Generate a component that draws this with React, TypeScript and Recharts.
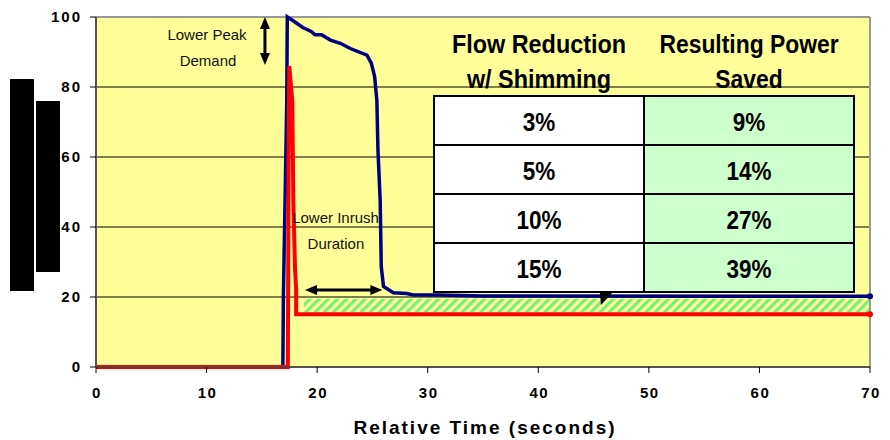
import React from "react"
import {
  LineChart,
  Line,
  XAxis,
  YAxis,
  CartesianGrid,
  ReferenceArea,
  ReferenceLine,
  ReferenceDot,
} from "recharts"

// time axis (seconds) and load (% of peak)
const BLUE_T = [0, 16.9, 16.95, 17.1, 17.25, 17.3, 17.8, 18.7, 19.5, 19.8, 20.4, 21.2, 22.1, 23.0, 24.5, 24.9, 25.2, 25.4, 25.5, 25.7, 25.8, 26.0, 26.9, 28.1, 28.7, 31, 35, 70]
const BLUE_V = [0, 0, 21, 47.7, 76, 100, 99, 97, 95.8, 94.9, 94.9, 93.4, 92.5, 91, 89.1, 86.8, 83, 76.2, 62, 47.7, 28.7, 23, 21.2, 21, 20.6, 20.6, 20.3, 20.2]

const RED_T = [0, 17.35, 17.42, 17.48, 17.75, 17.85, 18.0, 18.1, 18.1, 70]
const RED_V = [0, 0, 60, 86, 76, 47, 28, 22, 15.1, 15.1]

const X_TICKS = [0, 10, 20, 30, 40, 50, 60, 70]
const Y_TICKS = [0, 20, 40, 60, 80, 100]

const FLOW_REDUCTION = ["3%", "5%", "10%", "15%"]
const POWER_SAVED = ["9%", "14%", "27%", "39%"]

const blueData = BLUE_T.map((t, i) => ({ t, v: BLUE_V[i] }))
const redData = RED_T.map((t, i) => ({ t, v: RED_V[i] }))

const FONT = "'Liberation Sans', Arial, sans-serif"

const YTick = (props: any) => {
  const { x, y, payload } = props
  return (
    <text x={x - 6} y={y} dy={5} textAnchor="end" fontFamily={FONT} fontWeight="bold" fontSize={15} letterSpacing={2} fill="#000">
      {payload.value}
    </text>
  )
}

const XTick = (props: any) => {
  const { x, y, payload } = props
  return (
    <text x={x + 1} y={y + 23} textAnchor="middle" fontFamily={FONT} fontWeight="bold" fontSize={15} letterSpacing={1.5} fill="#000">
      {payload.value}
    </text>
  )
}

// double headed arrow drawn between the segment ends
const arrowShape = (props: any) => {
  const { x1, y1, x2, y2 } = props
  const dx = x2 - x1
  const dy = y2 - y1
  const len = Math.sqrt(dx * dx + dy * dy) || 1
  const ux = dx / len
  const uy = dy / len
  const hl = 12
  const hw = 5
  const head = (px: number, py: number, dir: number) => {
    const bx = px + dir * ux * hl
    const by = py + dir * uy * hl
    return `${px},${py} ${bx - uy * hw},${by + ux * hw} ${bx + uy * hw},${by - ux * hw}`
  }
  return (
    <g>
      <line x1={x1 + ux * 6} y1={y1 + uy * 6} x2={x2 - ux * 6} y2={y2 - uy * 6} stroke="#000" strokeWidth={3} />
      <polygon points={head(x1, y1, 1)} fill="#000" />
      <polygon points={head(x2, y2, -1)} fill="#000" />
    </g>
  )
}

const textShape = (label: string) => (props: any) => (
  <text x={props.cx} y={props.cy} textAnchor="middle" dominantBaseline="central" fontFamily={FONT} fontSize={15} fill="#111">
    {label}
  </text>
)

const endDot = (count: number, color: string) => (props: any) => {
  const { cx, cy, index } = props
  if (index !== count - 1) return <g key={`d-${index}`} />
  return <circle key={`d-${index}`} cx={cx} cy={cy} r={3} fill={color} />
}

function DataTable() {
  const left = 434
  const top = 96
  const colW = 210
  const rowH = 49
  return (
    <svg width={890} height={440} style={{ position: "absolute", left: 0, top: 0, pointerEvents: "none" }}>
      <g fontFamily={FONT} fontWeight="bold" fill="#000" textAnchor="middle">
        <text transform="translate(539 53) scale(0.9 1)" fontSize={26}>Flow Reduction</text>
        <text transform="translate(539 88) scale(0.9 1)" fontSize={26}>w/ Shimming</text>
        <text transform="translate(749 53) scale(0.88 1)" fontSize={26}>Resulting Power</text>
        <text transform="translate(749 88) scale(0.88 1)" fontSize={26}>Saved</text>
      </g>
      {FLOW_REDUCTION.map((f, i) => (
        <g key={f}>
          <rect x={left} y={top + i * rowH} width={colW} height={rowH} fill="#FFFFFF" stroke="#000" strokeWidth={2} />
          <rect x={left + colW} y={top + i * rowH} width={colW} height={rowH} fill="#CCFFCC" stroke="#000" strokeWidth={2} />
          <text transform={`translate(${left + colW / 2} ${top + i * rowH + 35}) scale(0.9 1)`} textAnchor="middle" fontFamily={FONT} fontWeight="bold" fontSize={25}>
            {f}
          </text>
          <text transform={`translate(${left + colW * 1.5} ${top + i * rowH + 35}) scale(0.9 1)`} textAnchor="middle" fontFamily={FONT} fontWeight="bold" fontSize={25}>
            {POWER_SAVED[i]}
          </text>
        </g>
      ))}
      <polygon points="600,293 612,293 601,305" fill="#000" />
    </svg>
  )
}

export default function App() {
  return (
    <div style={{ position: "absolute", left: 0, top: 0, width: 890, height: 440, background: "#fff" }}>
      <LineChart width={890} height={440} data={blueData} margin={{ top: 17, right: 20, bottom: 0, left: 0 }}>
        <defs>
          <pattern id="hatch" width="6.5" height="6.5" patternUnits="userSpaceOnUse" patternTransform="rotate(45)">
            <rect width="6.5" height="6.5" fill="#FFFF99" />
            <rect width="3.2" height="6.5" fill="#77EE77" />
          </pattern>
        </defs>
        <CartesianGrid vertical={false} stroke="#000" fill="#FFFF99" />
        <XAxis
          type="number"
          dataKey="t"
          domain={[0, 70]}
          ticks={X_TICKS}
          interval={0}
          height={73}
          axisLine={{ stroke: "#444", strokeWidth: 1.5 }}
          tickLine={{ stroke: "#000" }}
          tick={<XTick />}
        />
        <YAxis
          type="number"
          domain={[0, 100]}
          ticks={Y_TICKS}
          interval={0}
          width={96}
          axisLine={{ stroke: "#555", strokeWidth: 2 }}
          tickLine={{ stroke: "#000" }}
          tick={<YTick />}
        />
        <ReferenceLine y={100} stroke="#999" strokeWidth={2} />
        <ReferenceLine x={70} stroke="#999" strokeWidth={2} />
        <ReferenceArea x1={18.8} x2={70} y1={15.6} y2={19.5} fill="url(#hatch)" fillOpacity={1} stroke="none" />
        <Line
          data={blueData}
          dataKey="v"
          type="linear"
          stroke="#000080"
          strokeWidth={3.5}
          dot={endDot(blueData.length, "#000080")}
          activeDot={false}
          isAnimationActive={false}
        />
        <Line
          data={redData}
          dataKey="v"
          type="linear"
          stroke="#FF0000"
          strokeWidth={4}
          dot={endDot(redData.length, "#FF0000")}
          activeDot={false}
          isAnimationActive={false}
        />
        <ReferenceLine segment={[{ x: 15.28, y: 100 }, { x: 15.28, y: 86.3 }]} shape={arrowShape} />
        <ReferenceLine segment={[{ x: 18.9, y: 22 }, { x: 25.9, y: 22 }]} shape={arrowShape} />
        <ReferenceDot x={10.04} y={95.1} r={0} shape={textShape("Lower Peak")} />
        <ReferenceDot x={10.13} y={87.7} r={0} shape={textShape("Demand")} />
        <ReferenceDot x={21.66} y={42.6} r={0} shape={textShape("Lower Inrush")} />
        <ReferenceDot x={21.7} y={35.4} r={0} shape={textShape("Duration")} />
      </LineChart>
      <DataTable />
      {/* blacked out y axis title */}
      <div style={{ position: "absolute", left: 10, top: 79, width: 24, height: 212, background: "#000" }} />
      <div style={{ position: "absolute", left: 36, top: 101, width: 24, height: 171, background: "#000" }} />
      <div
        style={{
          position: "absolute",
          left: 0,
          top: 417,
          width: 970,
          textAlign: "center",
          fontFamily: FONT,
          fontWeight: "bold",
          fontSize: 19,
          letterSpacing: 2,
          color: "#000",
        }}
      >
        Relative Time (seconds)
      </div>
    </div>
  )
}
